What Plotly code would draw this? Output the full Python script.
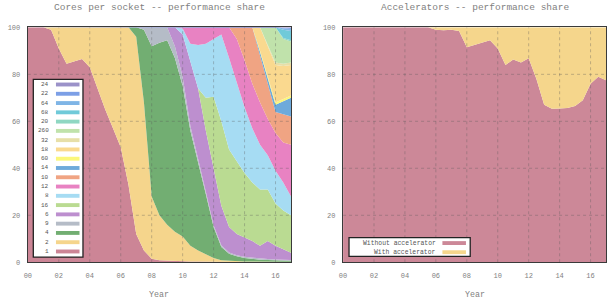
import plotly.graph_objects as go

# ---------------- data ----------------
YEARS = [2000.0, 2000.5, 2001.0, 2001.5, 2002.0, 2002.5, 2003.0, 2003.5, 2004.0, 2004.5,
         2005.0, 2005.5, 2006.0, 2006.5, 2007.0, 2007.5, 2008.0, 2008.5, 2009.0, 2009.5,
         2010.0, 2010.5, 2011.0, 2011.5, 2012.0, 2012.5, 2013.0, 2013.5, 2014.0, 2014.5,
         2015.0, 2015.5, 2016.0, 2016.5, 2017.0]

cores_1 = [100, 100, 100, 99, 91, 84.5, 85.5, 86.5, 83, 74, 65, 57, 49, 33, 12, 5, 1.5, 0.8, 0.6, 0.5,
           0.4, 0.3, 0.3, 0.2, 0.2, 0.1, 0.1, 0.1, 0.1, 0.1, 0.1, 0.1, 0.1, 0.1, 0.1]
cores_2 = [0, 0, 0, 1, 9, 15.5, 14.5, 13.5, 17, 26, 35, 43, 51, 67, 84, 63, 26.5, 19.2, 15.4, 12.5,
           10.6, 6.7, 4.7, 3.3, 1.6, 0.8, 0.5, 0.3, 0.2, 0.2, 0.1, 0.1, 0.1, 0.1, 0.1]
cores_4 = [0, 0, 0, 0, 0, 0, 0, 0, 0, 0, 0, 0, 0, 0, 4, 31, 64, 73.5, 78.5, 74,
           64, 49, 38, 25.5, 13.2, 5.6, 3, 2.1, 1.5, 1.1, 0.9, 0.8, 0.6, 0.5, 0.4]
cores_9 = [0, 0, 0, 0, 0, 0, 0, 0, 0, 0, 0, 0, 0, 0, 0, 1, 8, 6.5, 5.5, 5,
           4, 2, 1.5, 1, 0.8, 0.7, 0.6, 0.5, 0.5, 0.5, 0.4, 0.4, 0.4, 0.4, 0.4]
cores_6 = [0, 0, 0, 0, 0, 0, 0, 0, 0, 0, 0, 0, 0, 0, 0, 0, 0, 0, 0, 8,
           18, 28, 29.5, 26, 24.2, 16.8, 10.8, 9, 8.2, 7.1, 5.5, 7.6, 5.8, 4.4, 3]
cores_16 = [0, 0, 0, 0, 0, 0, 0, 0, 0, 0, 0, 0, 0, 0, 0, 0, 0, 0, 0, 0,
            0, 0, 0, 14, 30.5, 36, 33, 31, 27.5, 25, 24, 22, 18, 16.5, 16]
cores_8 = [0, 0, 0, 0, 0, 0, 0, 0, 0, 0, 0, 0, 0, 0, 0, 0, 0, 0, 0, 0,
           2.5, 7, 18.5, 23, 24.5, 37, 39, 33.5, 28, 23, 19, 14.5, 14, 12, 8]
cores_12 = [0, 0, 0, 0, 0, 0, 0, 0, 0, 0, 0, 0, 0, 0, 0, 0, 0, 0, 0, 0,
            0.5, 7, 7.5, 7, 5, 3, 13, 18.5, 20, 19, 18, 15.5, 16, 17, 22]
cores_10 = [0, 0, 0, 0, 0, 0, 0, 0, 0, 0, 0, 0, 0, 0, 0, 0, 0, 0, 0, 0,
            0, 0, 0, 0, 0, 0, 0, 5, 14, 24, 20, 15, 9, 12, 12]
cores_14 = [0, 0, 0, 0, 0, 0, 0, 0, 0, 0, 0, 0, 0, 0, 0, 0, 0, 0, 0, 0,
            0, 0, 0, 0, 0, 0, 0, 0, 0, 0, 1.5, 2, 3, 5.5, 8]
cores_60 = [0, 0, 0, 0, 0, 0, 0, 0, 0, 0, 0, 0, 0, 0, 0, 0, 0, 0, 0, 0,
            0, 0, 0, 0, 0, 0, 0, 0, 0, 0, 0.5, 0.5, 1, 1, 1]
cores_18 = [0, 0, 0, 0, 0, 0, 0, 0, 0, 0, 0, 0, 0, 0, 0, 0, 0, 0, 0, 0,
            0, 0, 0, 0, 0, 0, 0, 0, 0, 0, 10, 13.5, 16, 14, 13]
cores_32 = [0, 0, 0, 0, 0, 0, 0, 0, 0, 0, 0, 0, 0, 0, 0, 0, 0, 0, 0, 0,
            0, 0, 0, 0, 0, 0, 0, 0, 0, 0, 0, 0.5, 1, 1, 1]
cores_260 = [0, 0, 0, 0, 0, 0, 0, 0, 0, 0, 0, 0, 0, 0, 0, 0, 0, 0, 0, 0,
             0, 0, 0, 0, 0, 0, 0, 0, 0, 0, 0, 7.5, 15, 10.5, 9]
cores_20 = [0, 0, 0, 0, 0, 0, 0, 0, 0, 0, 0, 0, 0, 0, 0, 0, 0, 0, 0, 0,
            0, 0, 0, 0, 0, 0, 0, 0, 0, 0, 0, 0, 0, 0.5, 0.5]
cores_68 = [0, 0, 0, 0, 0, 0, 0, 0, 0, 0, 0, 0, 0, 0, 0, 0, 0, 0, 0, 0,
            0, 0, 0, 0, 0, 0, 0, 0, 0, 0, 0, 0, 0, 3.5, 4]
cores_64 = [0, 0, 0, 0, 0, 0, 0, 0, 0, 0, 0, 0, 0, 0, 0, 0, 0, 0, 0, 0,
            0, 0, 0, 0, 0, 0, 0, 0, 0, 0, 0, 0, 0, 0.6, 0.8]
cores_22 = [0, 0, 0, 0, 0, 0, 0, 0, 0, 0, 0, 0, 0, 0, 0, 0, 0, 0, 0, 0,
            0, 0, 0, 0, 0, 0, 0, 0, 0, 0, 0, 0, 0, 0.2, 0.4]
cores_24 = [0, 0, 0, 0, 0, 0, 0, 0, 0, 0, 0, 0, 0, 0, 0, 0, 0, 0, 0, 0,
            0, 0, 0, 0, 0, 0, 0, 0, 0, 0, 0, 0, 0, 0.2, 0.3]

# stacking order, bottom first
CORE_LABELS = ["1", "2", "4", "9", "6", "16", "8", "12", "10", "14",
               "60", "18", "32", "260", "20", "68", "64", "22", "24"]
CORE_VALUES = [cores_1, cores_2, cores_4, cores_9, cores_6, cores_16, cores_8, cores_12,
               cores_10, cores_14, cores_60, cores_18, cores_32, cores_260, cores_20,
               cores_68, cores_64, cores_22, cores_24]

without_acc = [100, 100, 100, 100, 100, 100, 100, 100, 100, 100, 100, 100,
               99, 98.8, 99, 98.5, 91.5, 92.5, 93.8, 94.5, 91, 84, 86.3, 85, 86.9,
               78, 67, 65.3, 65.5, 65.7, 66.5, 69, 76, 79, 77.5]
with_acc = [0, 0, 0, 0, 0, 0, 0, 0, 0, 0, 0, 0,
            1, 1.2, 1, 1.5, 8.5, 7.5, 6.2, 5.5, 9, 16, 13.7, 15, 13.1,
            22, 33, 34.7, 34.5, 34.3, 33.5, 31, 24, 21, 22.5]
ACC_LABELS = ["Without accelerator", "With accelerator"]

TICK_YEARS = [2000, 2002, 2004, 2006, 2008, 2010, 2012, 2014, 2016]
TICK_TEXT = ["00", "02", "04", "06", "08", "10", "12", "14", "16"]
Y_TICKS = [0, 20, 40, 60, 80, 100]

# ---------------- style ----------------
CORE_COLORS = {
    "1": "#cc8596", "2": "#f5d58c", "4": "#72ae72", "9": "#b5bcc7", "6": "#bd8fcf",
    "16": "#badb92", "8": "#a6dcf3", "12": "#e882c2", "10": "#f0a483", "14": "#6eaadb",
    "60": "#fbf77a", "18": "#fad98f", "32": "#e7dfa8", "260": "#c0e2ab", "20": "#8fd7c2",
    "68": "#70cad9", "64": "#7fb5e6", "22": "#7c9fe6", "24": "#9b92c9",
}
ACC_COLORS = ["#cc8898", "#f5d68c"]

W, H = 610, 301
FONT = "Courier New, Nimbus Mono PS, FreeMono, Liberation Mono, monospace"
TXT = "#7f7f7f"
FRAME = "#3a3a3a"


def px(x):
    return x / W


def py(y):
    return 1 - y / H


fig = go.Figure()

for lab, vals in zip(CORE_LABELS, CORE_VALUES):
    fig.add_trace(go.Scatter(
        x=YEARS, y=vals, name=lab, mode="lines", stackgroup="cores", groupnorm="percent",
        line=dict(width=0, color=CORE_COLORS[lab]), fillcolor=CORE_COLORS[lab],
        xaxis="x", yaxis="y", showlegend=False, hoverinfo="skip"))

for lab, vals, col in zip(ACC_LABELS, [without_acc, with_acc], ACC_COLORS):
    fig.add_trace(go.Scatter(
        x=YEARS, y=vals, name=lab, mode="lines", stackgroup="acc", groupnorm="percent",
        line=dict(width=0, color=col), fillcolor=col,
        xaxis="x2", yaxis="y2", showlegend=False, hoverinfo="skip"))

y_dom = [py(265.3), py(24)]
ax_common = dict(showgrid=False, zeroline=False, showline=True, mirror=True,
                 linecolor=FRAME, linewidth=1.3, ticks="",
                 tickfont=dict(family=FONT, size=7, color=TXT))
fig.update_layout(
    width=W, height=H, margin=dict(l=0, r=0, t=0, b=0),
    paper_bgcolor="white", plot_bgcolor="white",
    font=dict(family=FONT, color=TXT),
    xaxis=dict(domain=[px(24), px(288.9)], range=[2000, 2017],
               tickvals=TICK_YEARS, ticktext=TICK_TEXT, ticklabelstandoff=6, **ax_common),
    yaxis=dict(domain=y_dom, range=[0, 100], tickvals=Y_TICKS, ticklabelstandoff=5, **ax_common),
    xaxis2=dict(domain=[px(341.3), px(606)], range=[2000, 2017], anchor="y2",
                tickvals=TICK_YEARS, ticktext=TICK_TEXT, ticklabelstandoff=6, **ax_common),
    yaxis2=dict(domain=y_dom, range=[0, 100], anchor="x2", tickvals=Y_TICKS,
                ticklabelstandoff=5, **ax_common),
)

shapes = []
annotations = []
# dotted grid drawn above the areas
for xa, ya in (("x", "y"), ("x2", "y2")):
    for yr in TICK_YEARS[1:]:
        shapes.append(dict(type="line", xref=xa, yref=ya, x0=yr, x1=yr, y0=0, y1=100,
                           line=dict(color="rgba(90,90,90,0.35)", width=1, dash="dot"),
                           layer="above"))
    for yv in Y_TICKS[1:-1]:
        shapes.append(dict(type="line", xref=xa, yref=ya, x0=2000, x1=2017, y0=yv, y1=yv,
                           line=dict(color="rgba(90,90,90,0.35)", width=1, dash="dot"),
                           layer="above"))

# titles
annotations.append(dict(text="Cores per socket -- performance share", x=px(156.5), y=py(3.5),
                        xref="paper", yref="paper", showarrow=False,
                        font=dict(family=FONT, size=9.5, color=TXT), xanchor="center", yanchor="middle"))
annotations.append(dict(text="Accelerators -- performance share", x=px(474), y=py(3.5),
                        xref="paper", yref="paper", showarrow=False,
                        font=dict(family=FONT, size=9.5, color=TXT), xanchor="center", yanchor="middle"))
for cx in (156.5, 473.7):
    annotations.append(dict(text="Year", x=px(cx), y=py(298.5), xref="paper", yref="paper",
                            showarrow=False, font=dict(family=FONT, size=8.3, color=TXT),
                            xanchor="center", yanchor="middle"))

# left legend (text left of swatch, top entry = top of stack)
shapes.append(dict(type="rect", xref="paper", yref="paper", x0=px(29.5), x1=px(79.5),
                   y0=py(260), y1=py(77.5), fillcolor="white",
                   line=dict(color="#222", width=1.3), layer="above"))
leg_order = CORE_LABELS[::-1]
for k, lab in enumerate(leg_order):
    yc = 82.7 + 9.53 * k
    shapes.append(dict(type="rect", xref="paper", yref="paper", x0=px(52.3), x1=px(76),
                       y0=py(yc + 2), y1=py(yc - 2), fillcolor=CORE_COLORS[lab],
                       line=dict(width=0), layer="above"))
    annotations.append(dict(text=lab, x=px(47), y=py(yc), xref="paper", yref="paper",
                            showarrow=False, xanchor="right", yanchor="middle",
                            font=dict(family=FONT, size=6, color="#555")))

# right legend
shapes.append(dict(type="rect", xref="paper", yref="paper", x0=px(347.3), x1=px(469.3),
                   y0=py(259.3), y1=py(240), fillcolor="white",
                   line=dict(color="#222", width=1.3), layer="above"))
for k, (lab, col) in enumerate(zip(ACC_LABELS, ACC_COLORS)):
    yc = 245.6 + 9.4 * k
    shapes.append(dict(type="rect", xref="paper", yref="paper", x0=px(441.3), x1=px(465),
                       y0=py(yc + 2), y1=py(yc - 2), fillcolor=col,
                       line=dict(width=0), layer="above"))
    annotations.append(dict(text=lab, x=px(437), y=py(yc), xref="paper", yref="paper",
                            showarrow=False, xanchor="right", yanchor="middle",
                            font=dict(family=FONT, size=6.4, color="#555")))

fig.update_layout(shapes=shapes, annotations=annotations)
fig.write_html("out.html")
